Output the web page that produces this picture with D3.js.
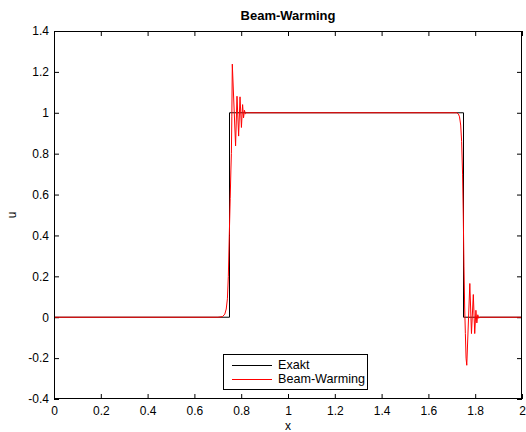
<!DOCTYPE html>
<html>
<head>
<meta charset="utf-8">
<script src="https://cdn.jsdelivr.net/npm/d3@7"></script>
<style>
  html, body { margin: 0; padding: 0; background: #fff; }
  svg { display: block; }
  text { font-family: "Liberation Sans", Arial, sans-serif; }
</style>
</head>
<body>
<svg id="chart" width="526" height="432"></svg>
<script>
// ---- data ----
const xTicks = [0, 0.2, 0.4, 0.6, 0.8, 1, 1.2, 1.4, 1.6, 1.8, 2];
const xTickLabels = ["0", "0.2", "0.4", "0.6", "0.8", "1", "1.2", "1.4", "1.6", "1.8", "2"];
const yTicks = [-0.4, -0.2, 0, 0.2, 0.4, 0.6, 0.8, 1, 1.2, 1.4];
const yTickLabels = ["-0.4", "-0.2", "0", "0.2", "0.4", "0.6", "0.8", "1", "1.2", "1.4"];

// exact solution (step)
const exaktX = [0, 0.75, 0.75, 1.75, 1.75, 2];
const exaktU = [0, 0, 1, 1, 0, 0];

// Beam-Warming numerical solution
const bwX = [0, 0.700, 0.720, 0.730, 0.736, 0.741, 0.745, 0.749, 0.753, 0.756, 0.758, 0.760, 0.762,
  0.776, 0.782, 0.789, 0.795, 0.801, 0.806, 0.810, 0.814, 0.818, 0.823,
  1.720, 1.728, 1.733, 1.738, 1.742, 1.746, 1.749, 1.752, 1.755, 1.758, 1.761, 1.764,
  1.777, 1.784, 1.792, 1.798, 1.803, 1.807, 1.811, 1.815, 1.820, 2];
const bwU = [0, 0, 0.003, 0.015, 0.04, 0.09, 0.20, 0.40, 0.58, 0.72, 0.80, 0.98, 1.238,
  0.838, 1.081, 0.886, 1.078, 0.928, 1.04, 0.975, 1.012, 0.995, 1.0,
  1.0, 0.995, 0.98, 0.94, 0.86, 0.70, 0.50, 0.25, 0.05, -0.08, -0.20, -0.235,
  0.165, -0.08, 0.111, -0.08, 0.034, -0.028, 0.012, -0.005, 0, 0];

const legendNames = ["Exakt", "Beam-Warming"];
const legendColors = ["#000000", "#ff0000"];

// ---- layout ----
const mLeft = 54, mRight = 522, mTop = 31, mBottom = 399;
const svg = d3.select("#chart");
svg.append("rect").attr("width", 526).attr("height", 432).attr("fill", "#fff");

const x = d3.scaleLinear().domain([0, 2]).range([mLeft, mRight]);
const y = d3.scaleLinear().domain([-0.4, 1.4]).range([mBottom, mTop]);

const fontSize = 12;

// clip
svg.append("clipPath").attr("id", "clip").append("rect")
  .attr("x", mLeft).attr("y", mTop).attr("width", mRight - mLeft).attr("height", mBottom - mTop);

// axes
const gx = svg.append("g").attr("transform", `translate(0,${mBottom})`)
  .call(d3.axisBottom(x).tickValues(xTicks).tickFormat((d, i) => xTickLabels[i])
    .tickSizeInner(-5).tickSizeOuter(0).tickPadding(7));
const gxt = svg.append("g").attr("transform", `translate(0,${mTop})`)
  .call(d3.axisTop(x).tickValues(xTicks).tickFormat("")
    .tickSizeInner(-5).tickSizeOuter(0));
const gy = svg.append("g").attr("transform", `translate(${mLeft},0)`)
  .call(d3.axisLeft(y).tickValues(yTicks).tickFormat((d, i) => yTickLabels[i])
    .tickSizeInner(-5).tickSizeOuter(0).tickPadding(5));
const gyr = svg.append("g").attr("transform", `translate(${mRight},0)`)
  .call(d3.axisRight(y).tickValues(yTicks).tickFormat("")
    .tickSizeInner(-5).tickSizeOuter(0));

[gx, gxt, gy, gyr].forEach(g => {
  g.select(".domain").remove();
  g.selectAll(".tick line").attr("stroke", "#000").attr("stroke-width", 1);
  g.selectAll("text").attr("font-size", fontSize).attr("fill", "#000")
    .attr("font-family", "'Liberation Sans', Arial, sans-serif");
});

// lines
const line = d3.line().x(d => x(d[0])).y(d => y(d[1]));
const exaktData = exaktX.map((v, i) => [v, exaktU[i]]);
const bwData = bwX.map((v, i) => [v, bwU[i]]);

const plot = svg.append("g").attr("clip-path", "url(#clip)");
plot.append("path").datum(exaktData).attr("d", line)
  .attr("fill", "none").attr("stroke", legendColors[0]).attr("stroke-width", 1);
plot.append("path").datum(bwData).attr("d", line)
  .attr("fill", "none").attr("stroke", legendColors[1]).attr("stroke-width", 1);

// frame
svg.append("rect").attr("x", mLeft + 0.5).attr("y", mTop + 0.5)
  .attr("width", mRight - mLeft - 1).attr("height", mBottom - mTop - 1)
  .attr("fill", "none").attr("stroke", "#000").attr("stroke-width", 1);

// title & labels
svg.append("text").attr("x", (mLeft + mRight) / 2).attr("y", 20)
  .attr("text-anchor", "middle").attr("font-weight", "bold").attr("font-size", 13)
  .text("Beam-Warming");
svg.append("text").attr("x", (mLeft + mRight) / 2).attr("y", 430)
  .attr("text-anchor", "middle").attr("font-size", fontSize).text("x");
svg.append("text").attr("transform", `translate(16,${(mTop + mBottom) / 2}) rotate(-90)`)
  .attr("text-anchor", "middle").attr("font-size", fontSize).text("u");

// legend
const lg = svg.append("g");
lg.append("rect").attr("x", 223.5).attr("y", 354.5).attr("width", 144).attr("height", 35)
  .attr("fill", "#fff").attr("stroke", "#000").attr("stroke-width", 1);
legendNames.forEach((name, i) => {
  const yy = 365 + i * 14;
  lg.append("line").attr("x1", 232).attr("x2", 272).attr("y1", yy + 0.5).attr("y2", yy + 0.5)
    .attr("stroke", legendColors[i]).attr("stroke-width", 1);
  lg.append("text").attr("x", 278).attr("y", yy).attr("dy", "0.35em")
    .attr("font-size", 12.6).text(name);
});
</script>
</body>
</html>
